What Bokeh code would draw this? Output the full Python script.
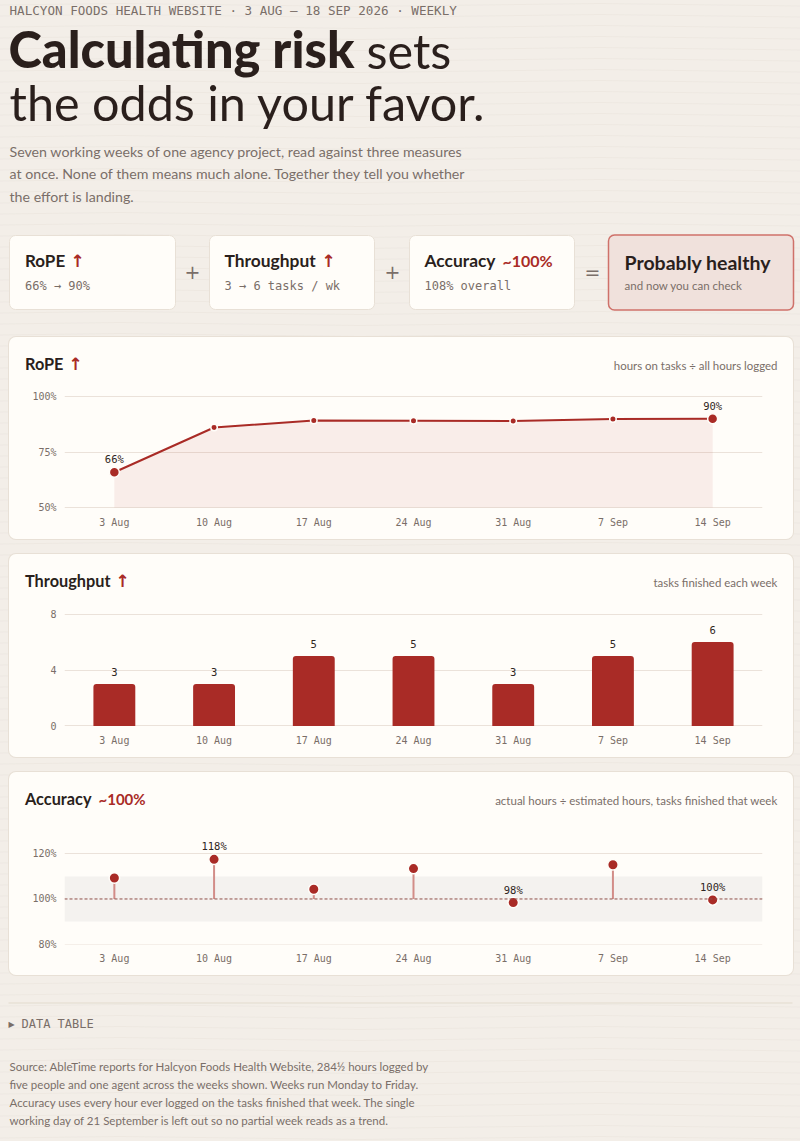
from bokeh.core.properties import value
from bokeh.embed import file_html
from bokeh.layouts import column
from bokeh.models import FactorRange, Range1d, FixedTicker, PrintfTickFormatter, BoxAnnotation, Span
from bokeh.plotting import figure
from bokeh.resources import INLINE

weeks = ["3 Aug", "10 Aug", "17 Aug", "24 Aug", "31 Aug", "7 Sep", "14 Sep"]
rope = [65.9, 86.0, 89.2, 89.1, 88.9, 89.8, 90.0]
tasks = [3, 3, 5, 5, 3, 5, 6]
accuracy = [109.3, 117.6, 104.3, 113.5, 98.4, 115.2, 99.6]

rope_ticks = [50, 75, 100]
tasks_ticks = [0, 4, 8]
accuracy_ticks = [80, 100, 120]

INK = "#2a1f1c"
MUTED = "#7a6e68"
VALUE = "#2f2622"
RED = "#a92b26"
PAPER = "#f3eee8"
CARD = "#fffdf9"
EDGE = "#e8e0d6"
GRID = "#ebe2da"
SANS = "Lato"
HEAVY = "Lato Black"
MONO = "DejaVu Sans Mono"
ARROW = "DejaVu Sans"

STRIP = 40  # height of the title strip on top of each chart card


def put(p, x, y, txt, size, color=INK, font=SANS, style="normal", align="left"):
    # page coordinates, y is the text baseline (the svg text sits about 0.41em low)
    p.text(x=[x], y=[y - 0.41 * size], text=[txt], text_font=value(font), text_font_size=f"{size}px",
           text_color=color, text_font_style=style, text_align=align, text_baseline="alphabetic")


def card(p, left, right, top, bottom, fill=CARD, edge=EDGE, width=1):
    p.quad(left=[left], right=[right], top=[top], bottom=[bottom], fill_color=fill,
           line_color=edge, line_width=width, border_radius=6)


def page_figure(width, height, x0, y0):
    p = figure(width=width, height=height, x_range=Range1d(x0, x0 + width), y_range=Range1d(y0 + height, y0),
               output_backend="svg", toolbar_location=None, min_border=0, frame_align=False,
               background_fill_alpha=0, border_fill_alpha=0, outline_line_color=None)
    p.axis.visible = False
    p.grid.visible = False
    return p


def chart(height, y_range, ticks, top, fmt=None):
    p = figure(width=784, height=height, x_range=FactorRange(factors=weeks, range_padding=0, factor_padding=0),
               y_range=Range1d(*y_range), output_backend="svg", toolbar_location=None, frame_align=False,
               min_border_left=55, min_border_right=31, min_border_top=top, min_border_bottom=31,
               background_fill_alpha=0, border_fill_alpha=0, outline_line_color=None)
    p.xgrid.visible = False
    p.ygrid.grid_line_color = GRID
    p.ygrid.grid_line_width = 1
    for ax in (p.xaxis[0], p.yaxis[0]):
        ax.axis_line_color = None
        ax.major_tick_line_color = None
        ax.major_tick_out = 0
        ax.major_tick_in = 0
        ax.minor_tick_line_color = None
        ax.major_label_text_font = MONO
        ax.major_label_text_font_size = "10px"
        ax.major_label_text_color = MUTED
    p.xaxis.major_label_standoff = 8
    p.yaxis.major_label_standoff = 8
    p.yaxis.ticker = FixedTicker(ticks=ticks)
    if fmt:
        p.yaxis.formatter = PrintfTickFormatter(format=fmt)
    return p


def chart_card(strip, p, margin_top=0):
    return column(strip, p, width=784, spacing=0, margin=(margin_top, 0, 0, 9),
                  styles={"background": CARD, "border-radius": "7px", "box-shadow": f"0 0 0 1px {EDGE}"})


# header: eyebrow, title, intro and the sum of measures
head = page_figure(800, 337, 0, 0)
put(head, 9, 15, "HALCYON FOODS HEALTH WEBSITE · 3 AUG – 18 SEP 2026 · WEEKLY", 12.6, MUTED, MONO)
put(head, 8, 69, "Calculating risk", 50.5, INK, HEAVY)
put(head, 366, 69, "sets", 48.5)
put(head, 9, 121, "the odds in your favor.", 48.5)
put(head, 9, 157, "Seven working weeks of one agency project, read against three measures", 14.2, MUTED)
put(head, 9, 179, "at once. None of them means much alone. Together they tell you whether", 14.2, MUTED)
put(head, 9, 202, "the effort is landing.", 14.2, MUTED)

card(head, 9, 175, 309, 235)
card(head, 209, 374, 309, 235)
card(head, 409, 574, 309, 235)
card(head, 608, 793, 309.5, 234.5, "#f0e1dc", "#cf716a", 1.5)
put(head, 192, 279, "+", 19, MUTED, ARROW, align="center")
put(head, 392, 279, "+", 19, MUTED, ARROW, align="center")
put(head, 592, 279, "=", 19, MUTED, ARROW, align="center")

put(head, 24.5, 267, "RoPE", 17, style="bold")
put(head, 70, 267, "↑", 17, RED, ARROW, "bold")
put(head, 24.5, 290, "66% → 90%", 12, MUTED, MONO)
put(head, 224, 267, "Throughput", 17.4, style="bold")
put(head, 321, 267, "↑", 17, RED, ARROW, "bold")
put(head, 224, 290, "3 → 6 tasks / wk", 12, MUTED, MONO)
put(head, 424, 267, "Accuracy", 17.4, style="bold")
put(head, 502, 267, "~100%", 16, RED, SANS, "bold")
put(head, 424, 290, "108% overall", 12, MUTED, MONO)
put(head, 624, 270, "Probably healthy", 19.5, style="bold")
put(head, 624, 290, "and now you can check", 11.5, MUTED)

# RoPE
s1 = page_figure(784, STRIP, 9, 0)
put(s1, 24.5, 33, "RoPE", 16.3, style="bold")
put(s1, 68, 33, "↑", 17, RED, ARROW, "bold")
put(s1, 777, 33, "hours on tasks ÷ all hours logged", 11.45, MUTED, align="right")

p1 = chart(162, (49.6, 100.4), rope_ticks, 18, "%d%%")
p1.varea(x=weeks, y1=[rope_ticks[0]] * len(weeks), y2=rope, fill_color=RED, fill_alpha=0.075)
p1.line(x=weeks, y=rope, line_color=RED, line_width=2)
p1.scatter(x=weeks[1:-1], y=rope[1:-1], size=6.5, fill_color=RED, line_color=CARD, line_width=1.5)
p1.scatter(x=[weeks[0], weeks[-1]], y=[rope[0], rope[-1]], size=10, fill_color=RED, line_color=CARD, line_width=1.5)
p1.text(x=[weeks[0], weeks[-1]], y=[rope[0], rope[-1]], text=[f"{round(rope[0])}%", f"{round(rope[-1])}%"],
        y_offset=-13, text_font=value(MONO), text_font_size="10.5px", text_color=VALUE,
        text_align="center", text_baseline="alphabetic")

# Throughput
s2 = page_figure(784, STRIP, 9, 0)
put(s2, 24.5, 33, "Throughput", 16.3, style="bold")
put(s2, 115, 33, "↑", 17, RED, ARROW, "bold")
put(s2, 777, 33, "tasks finished each week", 11.45, MUTED, align="right")

p2 = chart(163, (-0.036, 8.036), tasks_ticks, 19)
p2.vbar(x=weeks, top=tasks, width=0.42, fill_color=RED, line_color=None, border_radius=(3, 3, 0, 0))
p2.text(x=weeks, y=tasks, text=[str(t) for t in tasks], y_offset=-12, text_font=value(MONO), text_font_size="10.5px",
        text_color=VALUE, text_align="center", text_baseline="alphabetic")

# Accuracy, frame runs above 120 so the 118% label is not clipped
s3 = page_figure(784, STRIP, 9, 0)
put(s3, 24.5, 33, "Accuracy", 16.3, style="bold")
put(s3, 98, 33, "~100%", 15, RED, SANS, "bold")
put(s3, 777, 33, "actual hours ÷ estimated hours, tasks finished that week", 11.5, MUTED, align="right")

p3 = chart(163, (79.78, 132.2), accuracy_ticks, 14, "%d%%")
p3.add_layout(BoxAnnotation(bottom=90, top=110, fill_color="#f4f2ef", fill_alpha=1, line_color=None, level="underlay"))
p3.add_layout(Span(location=100, dimension="width", line_color="#8f4f49", line_width=1, line_dash="3 2"))
p3.segment(x0=weeks, y0=[100] * len(weeks), x1=weeks, y1=accuracy, line_color="#d28d88", line_width=2)
p3.scatter(x=weeks, y=accuracy, size=10.5, fill_color=RED, line_color=CARD, line_width=1.5)
shown = [1, 4, 6]
p3.text(x=[weeks[i] for i in shown], y=[accuracy[i] for i in shown], text=["118%", "98%", "100%"],
        y_offset=-13, text_font=value(MONO), text_font_size="10.5px", text_color=VALUE,
        text_align="center", text_baseline="alphabetic")

# footer
foot = page_figure(800, 166, 0, 975)
foot.line(x=[8, 792], y=[1002.5, 1002.5], line_color="#e2dbcd", line_width=1)
put(foot, 8, 1027, "▶", 8, MUTED, ARROW)
put(foot, 21, 1028, "DATA TABLE", 12, MUTED, MONO)
put(foot, 9, 1071, "Source: AbleTime reports for Halcyon Foods Health Website, 284½ hours logged by", 11.5, MUTED)
put(foot, 9, 1089, "five people and one agent across the weeks shown. Weeks run Monday to Friday.", 11.5, MUTED)
put(foot, 9, 1107, "Accuracy uses every hour ever logged on the tasks finished that week. The single", 11.5, MUTED)
put(foot, 9, 1125, "working day of 21 September is left out so no partial week reads as a trend.", 11.5, MUTED)

page = column(head, chart_card(s1, p1), chart_card(s2, p2, 15), chart_card(s3, p3, 15), foot, spacing=0)

# faint wavy paper texture behind everything
wave = ("data:image/svg+xml,<svg xmlns='http://www.w3.org/2000/svg' width='480' height='11'>"
        "<path d='M0 5 Q120 2 240 5 T480 5' fill='none' stroke='rgba(130,110,90,0.05)'/></svg>")
html = file_html(page, INLINE)
html = html.replace("</head>", f'<style>html,body{{background:{PAPER} url("{wave}")}}</style></head>')
open("out.html", "w").write(html)
